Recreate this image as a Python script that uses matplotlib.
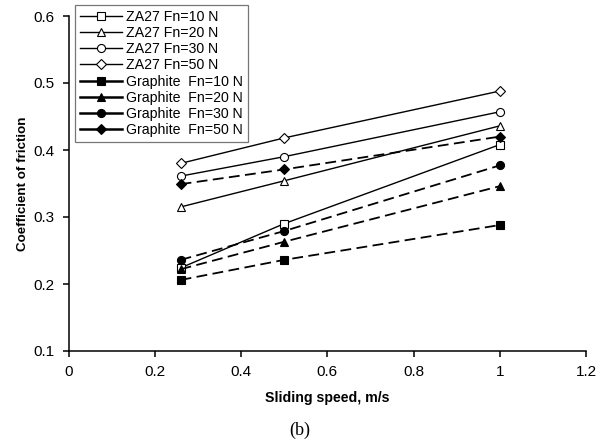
import matplotlib
matplotlib.use("Agg")
import matplotlib.pyplot as plt
from matplotlib.lines import Line2D

plt.rcParams["font.family"] = ["Liberation Sans", "DejaVu Sans"]

# sliding speed (m/s) and coefficient of friction per load
speed = [0.26, 0.5, 1.0]

za27_10 = [0.224, 0.290, 0.408]
za27_20 = [0.315, 0.354, 0.436]
za27_30 = [0.361, 0.390, 0.457]
za27_50 = [0.380, 0.418, 0.488]

graphite_10 = [0.206, 0.236, 0.288]
graphite_20 = [0.222, 0.263, 0.346]
graphite_30 = [0.236, 0.279, 0.377]
graphite_50 = [0.349, 0.371, 0.420]

labels = [
    "ZA27 Fn=10 N", "ZA27 Fn=20 N", "ZA27 Fn=30 N", "ZA27 Fn=50 N",
    "Graphite  Fn=10 N", "Graphite  Fn=20 N", "Graphite  Fn=30 N", "Graphite  Fn=50 N",
]
series = [za27_10, za27_20, za27_30, za27_50,
          graphite_10, graphite_20, graphite_30, graphite_50]
markers = ["s", "^", "o", "D"] * 2
msizes = [5.2, 6.0, 5.8, 4.6] * 2

fig = plt.figure(figsize=(6.03, 4.43), dpi=100)
ax = fig.add_axes([68.5 / 603, 92 / 443, (586 - 68.5) / 603, (351 - 16) / 443])

handles = []
for i, (y, lab) in enumerate(zip(series, labels)):
    open_mk = i < 4
    if open_mk:
        style = dict(color="black", lw=1.0, linestyle="-",
                     markerfacecolor="white", markeredgecolor="black", markeredgewidth=0.8)
    else:
        style = dict(color="black", lw=1.3, linestyle=(0, (6, 3)),
                     markerfacecolor="black", markeredgecolor="black", markeredgewidth=0.8)
    ax.plot(speed, y, marker=markers[i], markersize=msizes[i], zorder=3 + (0 if open_mk else 1),
            **style)
    # legend keys drawn with solid lines
    hs = dict(style)
    hs["linestyle"] = "-"
    if not open_mk:
        hs["lw"] = 1.8
    handles.append(Line2D([], [], marker=markers[i], markersize=msizes[i], label=lab, **hs))

ax.set_xlim(0, 1.2)
ax.set_ylim(0.1, 0.6)
ax.set_xticks([0, 0.2, 0.4, 0.6, 0.8, 1.0, 1.2])
ax.set_xticklabels(["0", "0.2", "0.4", "0.6", "0.8", "1", "1.2"])
ax.set_yticks([0.1, 0.2, 0.3, 0.4, 0.5, 0.6])
ax.set_yticklabels(["0.1", "0.2", "0.3", "0.4", "0.5", "0.6"])

for side in ("top", "right"):
    ax.spines[side].set_visible(False)
for side in ("left", "bottom"):
    ax.spines[side].set_linewidth(1.1)
ax.tick_params(direction="out", length=4, width=1.1, labelsize=11, pad=6, colors="black")

ax.set_xlabel("Sliding speed, m/s", fontsize=10.2, fontweight="bold", labelpad=9)
ax.set_ylabel("Coefficient of friction", fontsize=9.6, fontweight="bold", labelpad=3)

leg = ax.legend(handles=handles, loc="upper left",
                bbox_to_anchor=(75 / 603, 1 - 5 / 443), bbox_transform=fig.transFigure,
                borderaxespad=0, fontsize=10.2, frameon=True, fancybox=False,
                labelspacing=0.16, borderpad=0.32, handlelength=3.0, handletextpad=0.3)
leg.get_frame().set_edgecolor("#555555")
leg.get_frame().set_linewidth(0.9)

fig.text(300 / 603, 1 - 430 / 443, "(b)", ha="center", va="center",
         fontsize=13, family=["Liberation Serif", "DejaVu Serif"])

fig.savefig("out.png", dpi=100)
